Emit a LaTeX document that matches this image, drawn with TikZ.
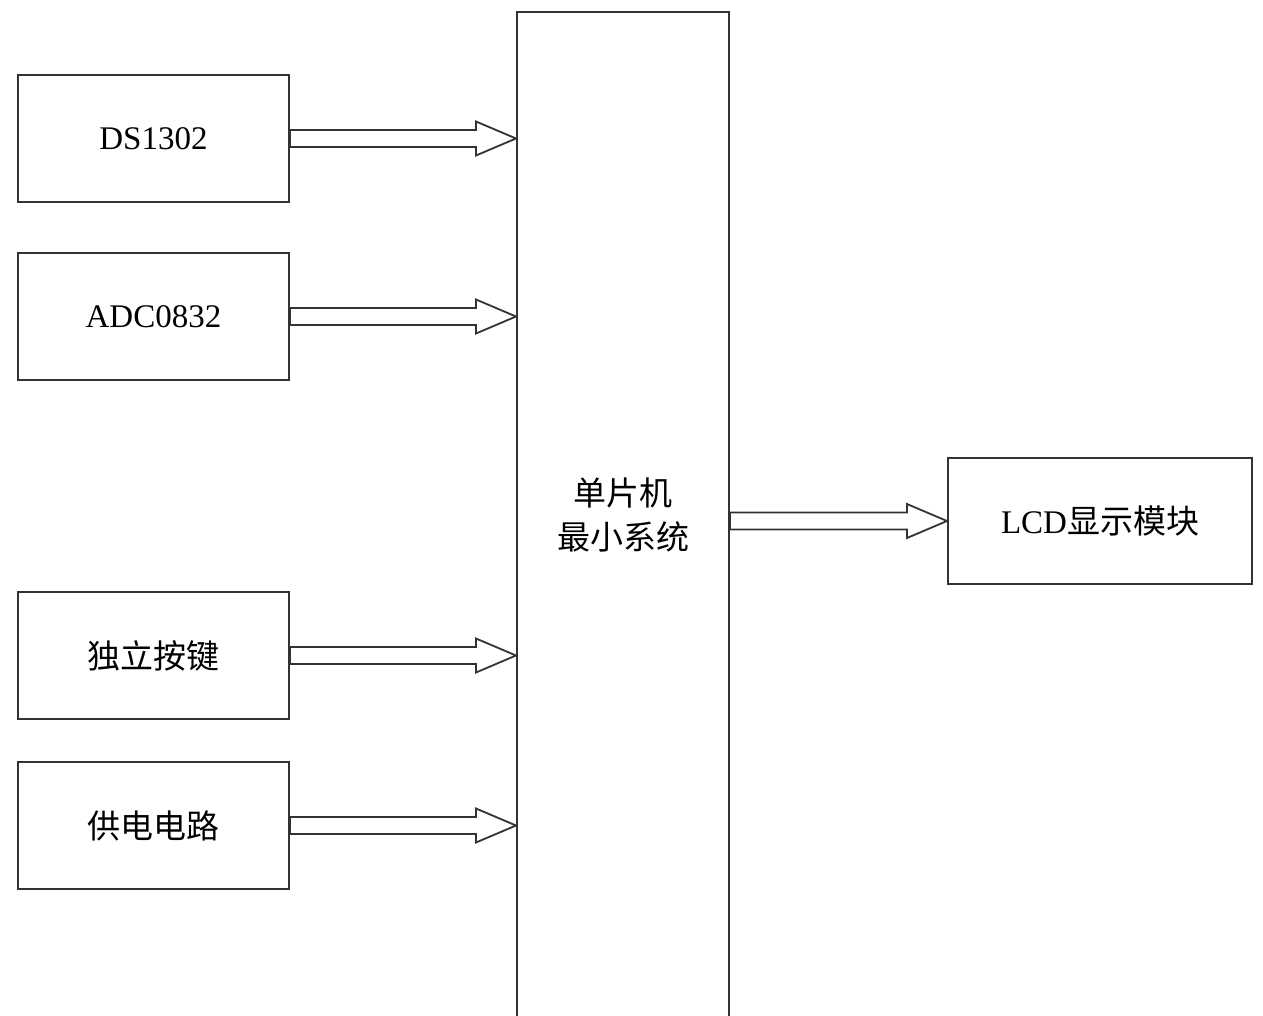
\documentclass[tikz,border=0pt]{standalone}
\usepackage{fontspec}
\setmainfont{Liberation Serif}
\newfontfamily\cjk{Noto Sans CJK SC}
\usetikzlibrary{calc}
\newcommand{\zh}[1]{{\cjk\fontsize{33}{44}\selectfont #1}}
\tikzset{
  blk/.style={draw=black!80, line width=2pt, fill=white, inner sep=0pt,
    minimum width=271pt, minimum height=127pt, font=\fontsize{33}{44}\selectfont},
  barrow/.style={draw=black!80, line width=1.8pt, fill=white, line join=miter},
}
\newcommand{\blockarrow}[2]{%
  \draw[barrow] let \p1=(#1), \p2=(#2) in
    (\x1,\y1+8.5pt) -- (\x2-40pt,\y1+8.5pt) -- (\x2-40pt,\y1+17pt) -- (\x2,\y1)
    -- (\x2-40pt,\y1-17pt) -- (\x2-40pt,\y1-8.5pt) -- (\x1,\y1-8.5pt) -- cycle;}
\begin{document}
\begin{tikzpicture}[x=1pt,y=-1pt]
\clip (0,0) rectangle (1263,1016);
\fill[white] (0,0) rectangle (1263,1016);
\node[blk] (ds) at (153.5,138.5) {DS1302};
\node[blk] (adc) at (153.5,316.5) {ADC0832};
\node[blk] (key) at (153.5,655.5) {\zh{独立按键}};
\node[blk] (pwr) at (153.5,825.5) {\zh{供电电路}};
\node[blk, minimum width=212pt, minimum height=1006pt, align=center] (mcu) at (623,515)
  {\zh{单片机}\\[0pt]\zh{最小系统}};
\node[blk, minimum width=304pt, minimum height=126pt] (lcd) at (1100,521)
  {LCD\zh{显示模块}};
\blockarrow{ds.east}{mcu.west |- ds.east}
\blockarrow{adc.east}{mcu.west |- adc.east}
\blockarrow{key.east}{mcu.west |- key.east}
\blockarrow{pwr.east}{mcu.west |- pwr.east}
\blockarrow{mcu.east |- lcd.west}{lcd.west}
\end{tikzpicture}
\end{document}
